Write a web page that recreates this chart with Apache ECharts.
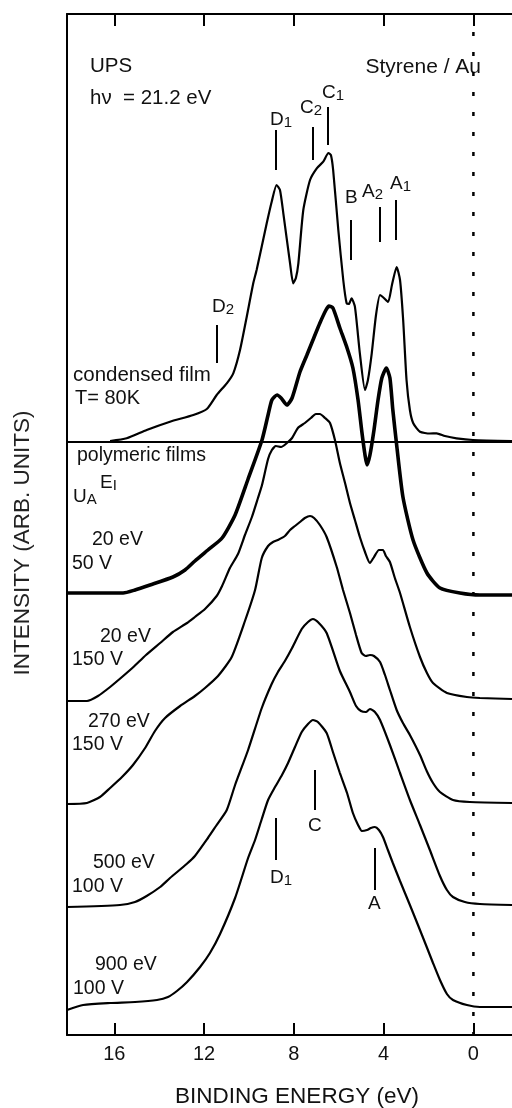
<!DOCTYPE html>
<html><head><meta charset="utf-8">
<script src="https://cdn.jsdelivr.net/npm/echarts@6/dist/echarts.min.js"></script>
<style>html,body{margin:0;padding:0;background:#fff}#c{width:512px;height:1108px}</style>
</head><body><div id="c"></div>
<script>
// Binding energy (eV) and intensity (arb. units, above each curve's own baseline)
const condE = [16.19,15.45,14.56,13.52,12.48,11.88,11.44,10.99,10.70,10.40,10.10,9.81,9.66,9.21,8.98,8.77,8.62,8.47,8.17,8.03,7.91,7.80,7.58,7.28,6.98,6.69,6.46,6.35,6.25,6.02,5.80,5.65,5.55,5.43,5.28,5.06,4.83,4.70,4.53,4.34,4.16,3.99,3.80,3.63,3.42,3.27,3.13,2.98,2.83,2.68,2.38,1.94,1.64,1.27,0.75,0.02,-1.72];
const condI = [0,2.7,11,19.3,26,32,46,57.7,67.7,91,124.3,157.7,171,217.7,240,256,251,227.7,177.7,157.7,163,177.7,231,261,272.7,279.3,288,286,271,211,161,137.7,137,142.7,134.3,87.7,51,61,87.7,126,146,143,139,156,174,161,121,61,31,17.7,9.3,7.5,7.7,5,2.7,1,0];

const e20v50E = [18.11,15.61,15.08,14.41,13.39,12.85,12.41,11.83,11.20,10.62,10.04,9.42,9.15,8.98,8.75,8.57,8.31,8.08,7.73,7.42,7.15,6.84,6.57,6.44,6.26,5.95,5.63,5.37,5.14,4.97,4.83,4.74,4.61,4.43,4.25,4.08,3.88,3.72,3.59,3.41,3.14,2.69,2.07,1.49,0.60,-0.29,-1.72];
const e20v50I = [0,0,3,8,16,23,32,43,55,78,114,153,178,193,198,195,188,195,221,238,253,270,283,287,285,265,245,225,193,161,138,128,138,163,193,215,225,215,183,146,96,53,20,5,0,-2,-2];

const e20v150E = [18.11,17.22,16.73,16.19,15.66,15.15,14.59,13.96,13.39,12.76,12.41,11.96,11.44,11.20,10.85,10.49,10.18,9.87,9.60,9.42,9.15,8.98,8.80,8.57,8.31,8.08,7.82,7.51,7.24,7.02,6.84,6.61,6.39,6.17,5.95,5.72,5.50,5.28,5.06,4.83,4.61,4.43,4.21,4.03,3.90,3.72,3.50,3.27,2.83,2.38,2.07,1.80,1.18,0.29,-0.29,-1.72];
const e20v150I = [-1,-1,4,13,23,33,45,57,68,77,83,91,104,114,132,146,165,183,202,215,241,250,254,253,257,262,272,277,282,286,286,282,277,260,237,217,197,180,163,148,137,143,150,150,144,138,122,107,73,43,27,17,7,3,2,1];

const e270v150E = [18.11,17.22,16.64,16.19,15.66,15.17,14.63,14.19,13.74,13.07,12.41,11.96,11.38,10.77,10.18,9.73,9.43,9.15,8.93,8.71,8.40,8.17,7.95,7.73,7.51,7.28,7.10,6.84,6.54,6.09,5.81,5.50,5.23,4.98,4.79,4.61,4.43,4.16,3.94,3.72,3.42,3.14,2.83,2.38,2.08,1.80,1.49,0.91,0.16,-1.72];
const e270v150I = [-1,0,6,15,26,38,55,72,85,97,107,115,127,146,182,213,245,257,261,263,267,273,277,281,285,287,285,278,266,236,213,190,168,150,147,148,147,141,128,113,93,80,68,48,32,20,11,3,1,0];

const e500v100E = [18.11,15.75,15.08,14.56,13.96,13.52,12.78,12.41,11.83,11.47,10.99,10.62,10.04,9.43,8.99,8.71,8.40,8.08,7.65,7.37,7.15,6.93,6.54,5.95,5.50,5.23,5.01,4.79,4.61,4.39,4.16,3.72,3.27,2.83,2.38,1.94,1.49,1.18,0.91,0.38,-0.29,-1.72];
const e500v100I = [0,2,5,11,20,29,43,51,69,81,97,122,157,199,223,235,246,259,278,285,288,285,274,236,215,201,196,195,198,195,187,162,134,107,82,57,31,17,10,5,3,2];

const e900v100E = [18.11,17.39,16.19,15.08,14.10,13.61,13.21,12.76,12.18,11.74,11.29,10.62,10.04,9.73,9.43,9.15,8.84,8.53,8.26,7.95,7.65,7.37,7.15,6.93,6.54,6.26,5.95,5.63,5.37,5.14,4.97,4.74,4.57,4.39,4.21,4.03,3.81,3.59,3.27,2.83,2.47,2.08,1.80,1.49,1.18,0.91,0.29,-0.29,-1.72];
const e900v100I = [-2,3,5,6,8,11,17,26,41,55,74,110,150,168,189,208,221,233,245,261,276,284,288,286,275,256,235,215,195,183,177,178,180,181,178,171,158,145,127,103,83,61,45,28,14,8,3,1,1];

// vertical stacking offsets of each spectrum (arb. units)
const curveOffsets = [594, 442, 335, 232, 128, 27];
const xTickValues = [16, 12, 8, 4, 0];

const FONT = "'Liberation Sans', Arial, Helvetica, sans-serif";
const INK = '#000';
const TXT = '#111';
const XMIN = -1.72, XMAX = 18.11, YMAX = 1021;

function ser(name, E, I, off, w) {
  return {
    name, type: 'line', xAxisIndex: 0, yAxisIndex: 0,
    data: E.map((e, i) => [e, off + I[i]]),
    showSymbol: false, smooth: 0.2, silent: true, animation: false,
    lineStyle: { color: INK, width: w }
  };
}

const series = [
  ser('condensed film', condE, condI, curveOffsets[0], 2.2),
  ser('20 eV 50 V', e20v50E, e20v50I, curveOffsets[1], 3.6),
  ser('20 eV 150 V', e20v150E, e20v150I, curveOffsets[2], 2.2),
  ser('270 eV 150 V', e270v150E, e270v150I, curveOffsets[3], 2.2),
  ser('500 eV 100 V', e500v100E, e500v100I, curveOffsets[4], 2.2),
  ser('900 eV 100 V', e900v100E, e900v100I, curveOffsets[5], 2.2)
];

function seg(e, y1, y2) { return [{ coord: [e, y1] }, { coord: [e, y2] }]; }

series.push({
  type: 'line', data: [], silent: true, animation: false,
  markLine: {
    silent: true, symbol: ['none', 'none'], animation: false,
    label: { show: false },
    lineStyle: { color: INK, width: 2, type: 'solid' },
    data: [
      [{ coord: [XMAX, 593.5] }, { coord: [XMIN, 593.5] }],
      seg(8.80, 905, 865), seg(7.14, 908, 875), seg(6.47, 928, 890),
      seg(5.46, 815, 775), seg(4.16, 828, 793), seg(3.45, 835, 795),
      seg(11.44, 710, 672),
      seg(7.06, 265, 225), seg(8.80, 217, 175), seg(4.39, 187, 145)
    ]
  }
});
// Fermi level reference (E = 0), dotted
series.push({
  name: 'EF', type: 'line', data: [[0, YMAX - 18], [0, 0]], showSymbol: false,
  silent: true, animation: false,
  lineStyle: { color: INK, width: 2.5, type: [4, 16] }
});

const rich = {
  m: { fontFamily: FONT, fontSize: 19, lineHeight: 20, color: TXT },
  s: { fontFamily: FONT, fontSize: 15, lineHeight: 8, verticalAlign: 'bottom', color: TXT }
};
function T(x, y, text, size, align) {
  return { type: 'text', x, y, silent: true,
    style: { text, font: `${size || 19}px ${FONT}`, fill: TXT, align: align || 'left', verticalAlign: 'middle' } };
}
function TR(x, y, main, sub) {
  return { type: 'text', x, y, silent: true,
    style: { text: `{m|${main}}{s|${sub}}`, rich, fill: TXT, align: 'left', verticalAlign: 'middle' } };
}

const graphic = [
  T(90, 66, 'UPS', 20.5),
  T(90, 98, 'hν  = 21.2 eV', 20.5),
  T(481, 67, 'Styrene / Au', 21, 'right'),
  T(73, 375, 'condensed film', 20.5),
  T(75, 398, 'T= 80K', 20),
  T(77, 456, 'polymeric films', 19.5),
  TR(100, 483, 'E', 'I'),
  TR(73, 497, 'U', 'A'),
  T(92, 540, '20 eV', 19.5), T(72, 564, '50 V', 19.5),
  T(100, 637, '20 eV', 19.5), T(72, 660, '150 V', 19.5),
  T(88, 722, '270 eV', 19.5), T(72, 745, '150 V', 19.5),
  T(93, 863, '500 eV', 19.5), T(72, 887, '100 V', 19.5),
  T(95, 965, '900 eV', 19.5), T(73, 989, '100 V', 19.5),
  TR(270, 120, 'D', '1'),
  TR(300, 108, 'C', '2'),
  TR(322, 93, 'C', '1'),
  T(345, 198, 'B', 19),
  TR(362, 192, 'A', '2'),
  TR(390, 184, 'A', '1'),
  TR(212, 307, 'D', '2'),
  T(308, 826, 'C', 19),
  TR(270, 878, 'D', '1'),
  T(368, 904, 'A', 19),
  T(297, 1097, 'BINDING ENERGY (eV)', 22.5, 'center'),
  { type: 'text', x: 23, y: 543, rotation: Math.PI / 2, silent: true,
    style: { text: 'INTENSITY (ARB. UNITS)', font: `22.5px ${FONT}`, fill: '#222', align: 'center', verticalAlign: 'middle' } }
];

const axisCommon = {
  type: 'value', inverse: true, min: XMIN, max: XMAX,
  splitLine: { show: false },
  axisLine: { show: true, onZero: false, lineStyle: { color: INK, width: 2 } },
  axisTick: { show: true, inside: true, length: 12, lineStyle: { color: INK, width: 2 }, customValues: xTickValues }
};

const option = {
  animation: false,
  backgroundColor: '#fff',
  grid: { left: 67, right: 0, top: 14, bottom: 73, containLabel: false },
  xAxis: [
    Object.assign({}, axisCommon, {
      position: 'bottom',
      axisLabel: { show: true, customValues: xTickValues, color: TXT, fontSize: 20, fontFamily: FONT, margin: 9 }
    }),
    Object.assign({}, axisCommon, { position: 'top', axisLabel: { show: false } })
  ],
  yAxis: {
    type: 'value', min: 0, max: YMAX, position: 'left',
    axisLine: { show: true, onZero: false, lineStyle: { color: INK, width: 2 } },
    axisTick: { show: false }, axisLabel: { show: false }, splitLine: { show: false }
  },
  series,
  graphic
};

const chart = echarts.init(document.getElementById('c'));
chart.setOption(option);
</script>
</body></html>
